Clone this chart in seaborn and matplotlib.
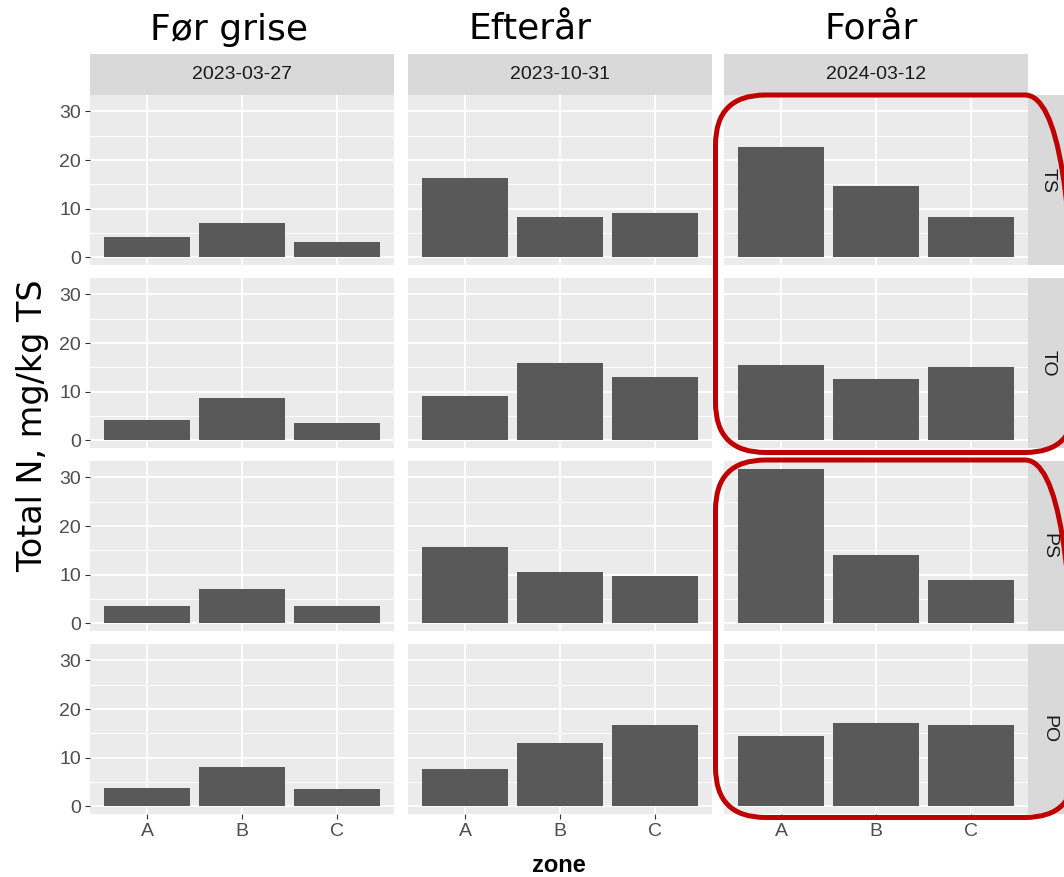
import matplotlib
matplotlib.use("Agg")
import matplotlib.pyplot as plt
from matplotlib.patches import FancyBboxPatch
from matplotlib.ticker import MultipleLocator
from matplotlib.transforms import IdentityTransform
import seaborn as sns
import pandas as pd

zones = ["A", "B", "C"]
dates = ["2023-03-27", "2023-10-31", "2024-03-12"]
seasons = ["Før grise", "Efterår", "Forår"]
layers = ["TS", "TO", "PS", "PO"]

# total N per layer, one inner list per date (zone A, B, C)
ts = [[4.1, 7.1, 3.2], [16.4, 8.3, 9.2], [22.7, 14.6, 8.3]]
to = [[4.2, 8.6, 3.6], [9.2, 16.0, 13.1], [15.4, 12.7, 15.1]]
ps = [[3.6, 7.1, 3.6], [15.6, 10.6, 9.7], [31.8, 14.1, 8.9]]
po = [[3.8, 8.0, 3.5], [7.7, 13.0, 16.7], [14.4, 17.1, 16.8]]

rows = []
for layer, vals in zip(layers, [ts, to, ps, po]):
    for d, date in enumerate(dates):
        for z, zone in enumerate(zones):
            rows.append({"layer": layer, "date": date, "zone": zone, "N": vals[d][z]})
df = pd.DataFrame(rows)

plt.rcParams['font.family'] = ['Liberation Sans', 'DejaVu Sans']

W, H = 1064, 877
fig = plt.figure(figsize=(W / 100, H / 100), dpi=100)


def fbox(x, y, w, h):
    # pixel box with top-left origin -> figure fractions
    return [x / W, 1 - (y + h) / H, w / W, h / H]


col_x = [90, 408, 724]
row_y = [95, 278, 461, 644]
pw, ph, sh = 304, 170, 41

ymax = df["N"].max()
ylim = (-0.05 * ymax, 1.05 * ymax)

for r, layer in enumerate(layers):
    for c, date in enumerate(dates):
        ax = fig.add_axes(fbox(col_x[c], row_y[r], pw, ph))
        sub = df[(df.layer == layer) & (df.date == date)]
        sns.barplot(data=sub, x="zone", y="N", order=zones, color="#595959",
                    saturation=1, width=0.9, linewidth=0, errorbar=None, ax=ax)
        ax.set_facecolor("#EBEBEB")
        ax.set_xlim(-0.6, 2.6)
        ax.set_ylim(*ylim)
        ax.set_yticks([0, 10, 20, 30])
        ax.yaxis.set_minor_locator(MultipleLocator(5))
        ax.set_axisbelow(True)
        ax.grid(True, which="major", color="white", lw=1.4)
        ax.yaxis.grid(True, which="minor", color="white", lw=0.7)
        ax.xaxis.grid(True, which="major", color="white", lw=1.4)
        for s in ax.spines.values():
            s.set_visible(False)
        ax.set_xlabel("")
        ax.set_ylabel("")
        ax.tick_params(which="major", length=3.6, width=0.8, color="#333333",
                       labelcolor="#4D4D4D", labelsize=14, pad=3)
        ax.tick_params(which="minor", length=0)
        if c > 0:
            ax.tick_params(axis="y", left=False, labelleft=False)
        if r < 3:
            ax.tick_params(axis="x", bottom=False, labelbottom=False)

        if r == 0:
            sax = fig.add_axes(fbox(col_x[c], row_y[0] - sh, pw, sh))
            sax.set_facecolor("#D9D9D9")
            sax.set_xticks([])
            sax.set_yticks([])
            for s in sax.spines.values():
                s.set_visible(False)
            sax.text(0.5, 0.5, date, ha="center", va="center", fontsize=14,
                     color="#1A1A1A", transform=sax.transAxes)
        if c == 2:
            sax = fig.add_axes(fbox(col_x[2] + pw, row_y[r], sh, ph))
            sax.set_facecolor("#D9D9D9")
            sax.set_xticks([])
            sax.set_yticks([])
            for s in sax.spines.values():
                s.set_visible(False)
            sax.text(0.5, 0.5, layer, ha="center", va="center", fontsize=14,
                     rotation=-90, color="#1A1A1A", transform=sax.transAxes)

# season headings
for name, xc in zip(seasons, [229, 530, 871]):
    fig.text(xc / W, 1 - 40 / H, name, ha="center", va="baseline",
             fontsize=26, family="DejaVu Sans", color="black")

fig.text(33 / W, 1 - 426 / H, "Total N, mg/kg TS", rotation=90, ha="center",
         va="center", fontsize=24, family="DejaVu Sans", color="black")
fig.text((col_x[0] + col_x[2] + pw) / 2 / W, 1 - 866 / H, "zone", ha="center",
         va="center", fontsize=17, fontweight="bold", color="black")

# red highlight boxes around the spring column
left = col_x[2] - 8.5
right = 1075
for top, bottom in [(95, 452.5), (460, 817.5)]:
    box = FancyBboxPatch((left, H - bottom), right - left, bottom - top,
                         boxstyle="round,pad=0,rounding_size=50",
                         fill=False, edgecolor="#C00000", lw=3.6,
                         transform=IdentityTransform())
    fig.patches.append(box)

fig.savefig("out.png", dpi=100)
